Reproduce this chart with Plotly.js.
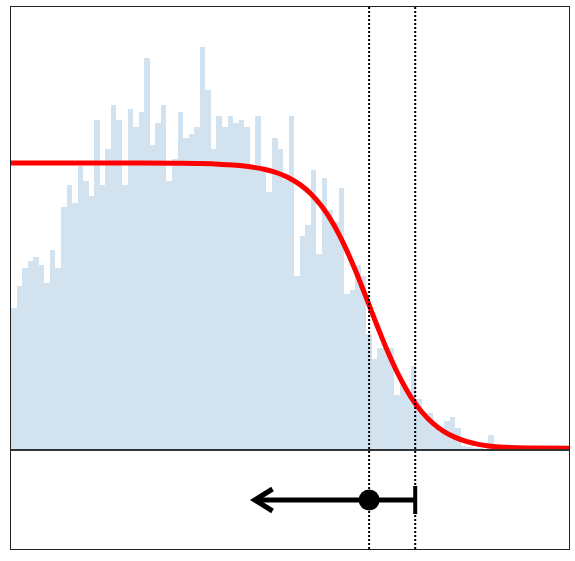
<!DOCTYPE html>
<html>
<head>
<meta charset="utf-8">
<script src="https://cdn.plot.ly/plotly-3.0.1.min.js"></script>
<style>html,body{margin:0;padding:0;background:#fff;}#chart{width:575px;height:561px;}</style>
</head>
<body>
<div id="chart"></div>
<script>
// Histogram counts, one per unit-wide bin starting at 0
const binCounts = [142,164,182,189,193,185,167,200,182,243,
                   265,247,284,269,254,330,265,301,345,330,
                   265,341,323,338,392,305,327,345,269,291,
                   338,312,316,323,403,360,301,334,323,334,
                   327,330,323,284,334,280,258,312,301,270,
                   334,174,214,225,280,196,272,240,228,262,
                   156,160,185,174,116,91,102,102,102,55,
                   65,58,84,51,37,37,22,18,29,33,
                   22,4,3,2,2,0,15];
// Fitted survival-type curve
const curveX = [0,10,20,30,34,38,40,42,44,46,48,50,52,54,56,58,60,62,64,66,68,70,72,74,76,78,80,82,84,86,88,90,94,100.5];
const curveY = [287,287,287,286.7,286.4,285.6,284.9,283.9,282.4,280.2,277,272.3,265.6,256.3,243.4,226.5,205.2,180,152.1,123.5,96.5,72.8,53.2,38,26.6,18.4,12.6,8.6,5.9,4.1,3,2.4,2,1.7];
// Interval summary: point estimate, upper bound, left arrow end (open-ended)
const estimate = 64.5;
const upperBound = 72.8;
const arrowTip = 43.9;
const intervalRow = -50;

const binCenters = binCounts.map((_, i) => i + 0.5);

const headDx = 3.2, headDy = 11;

const traces = [
  {type:'bar', x:binCenters, y:binCounts, width:1,
   marker:{color:'#d2e3ef', line:{width:0}}, hoverinfo:'skip'},
  {type:'scatter', mode:'lines', x:curveX, y:curveY,
   line:{color:'#ff0000', width:5, shape:'spline', smoothing:1}},
  {type:'scatter', mode:'lines', x:[arrowTip, upperBound], y:[intervalRow, intervalRow],
   line:{color:'#000', width:5}},
  {type:'scatter', mode:'lines',
   x:[arrowTip + headDx, arrowTip, arrowTip + headDx],
   y:[intervalRow + headDy, intervalRow, intervalRow - headDy],
   line:{color:'#000', width:5}},
  {type:'scatter', mode:'markers', x:[upperBound], y:[intervalRow],
   marker:{symbol:'line-ns', size:20, line:{color:'#000', width:4}}},
  {type:'scatter', mode:'markers', x:[estimate], y:[intervalRow],
   marker:{symbol:'circle', size:21, color:'#000'}}
];

const layout = {
  width:575, height:561,
  margin:{l:11, r:6, t:7, b:12},
  paper_bgcolor:'#fff', plot_bgcolor:'#fff',
  showlegend:false, bargap:0,
  xaxis:{range:[0,100.5], showticklabels:false, ticks:'', showgrid:false, zeroline:false,
         showline:true, mirror:true, linecolor:'#222', linewidth:1},
  yaxis:{range:[-99,443], showticklabels:false, ticks:'', showgrid:false, zeroline:false,
         showline:true, mirror:true, linecolor:'#222', linewidth:1},
  shapes:[
    {type:'line', xref:'paper', x0:0, x1:1, yref:'y', y0:0, y1:0,
     line:{color:'#333', width:2}, layer:'above'},
    {type:'line', xref:'x', x0:estimate, x1:estimate, yref:'paper', y0:0, y1:1,
     line:{color:'#000', width:2, dash:'2px,2px'}, layer:'above'},
    {type:'line', xref:'x', x0:upperBound, x1:upperBound, yref:'paper', y0:0, y1:1,
     line:{color:'#000', width:2, dash:'2px,2px'}, layer:'above'}
  ]
};

Plotly.newPlot('chart', traces, layout, {staticPlot:true, displayModeBar:false});
</script>
</body>
</html>
